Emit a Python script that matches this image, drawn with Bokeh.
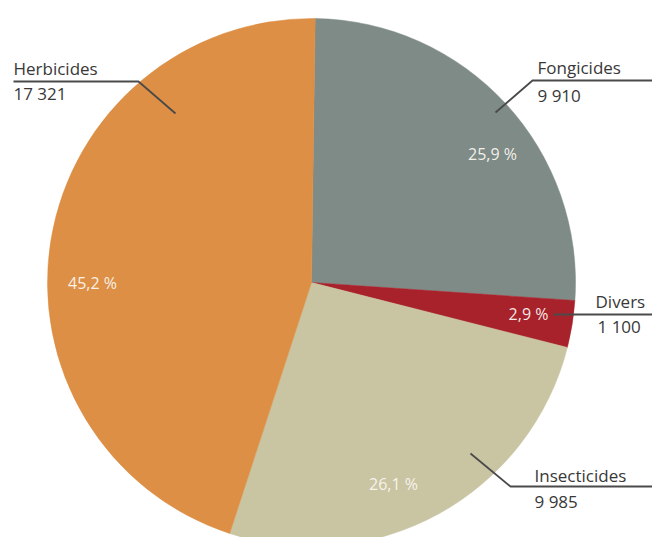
import math
from bokeh.plotting import figure
from bokeh.models import ColumnDataSource, Range1d
from bokeh.core.properties import value
from bokeh.embed import file_html
from bokeh.resources import INLINE

# ---- data ----
categories = ["Fongicides", "Divers", "Insecticides", "Herbicides"]
amounts = [9910, 1100, 9985, 17321]
amount_labels = ["9 910", "1 100", "9 985", "17 321"]
pct_labels = ["25,9 %", "2,9 %", "26,1 %", "45,2 %"]
colors = ["#7f8b86", "#a8222c", "#c9c4a2", "#dd8f45"]

# ---- layout (pixel-like coordinates, y downward -> negated) ----
CX, CY, R = 311, 282, 264
START_DEG = 0.8
FONT = "Open Sans"
TXT = "#383838"

total = sum(amounts)
starts, ends = [], []
acc = START_DEG
for a in amounts:
    th0 = acc
    th1 = acc + a / total * 360.0
    starts.append(math.radians(90 - th0))
    ends.append(math.radians(90 - th1))
    acc = th1

W, H = 652, 537
p = figure(width=W, height=H, output_backend="svg", toolbar_location=None,
           x_range=Range1d(0, W), y_range=Range1d(-H, 0),
           min_border=0)
p.axis.visible = False
p.grid.visible = False
p.outline_line_color = None
p.background_fill_color = "white"

src = ColumnDataSource(dict(start=starts, end=ends, color=colors))
p.wedge(x=CX, y=-CY, radius=R, start_angle="start", end_angle="end",
        direction="clock", fill_color="color", line_color="color",
        line_width=0.5, source=src)

# percentage labels (positions inside slices)
pct_pos = [(492, 153), (528, 313), (393, 483), (92, 282)]
p.text(x=[q[0] for q in pct_pos], y=[-q[1] for q in pct_pos], text=pct_labels,
       text_font=value(FONT), text_font_size="16px", text_color="#fbf7f2",
       text_alpha=0.95, text_align="center", text_baseline="middle")

# leader lines: (points) for each category
leaders = {
    "Fongicides": [(495, 112), (532, 80), (652, 80)],
    "Divers": [(553, 314), (652, 314)],
    "Insecticides": [(470, 453), (510, 486), (652, 486)],
    "Herbicides": [(175, 113), (138, 81), (13, 81)],
}
for name in categories:
    pts = leaders[name]
    p.line([q[0] for q in pts], [-q[1] for q in pts], line_color="#4a4a4a",
           line_width=1.8)

# category labels and amounts (vertical middle of text)
label_pos = {
    "Fongicides": (537, 67),
    "Divers": (595, 301),
    "Insecticides": (534, 475),
    "Herbicides": (13, 68),
}
amount_pos = {
    "Fongicides": (537, 95),
    "Divers": (597, 326),
    "Insecticides": (534, 501),
    "Herbicides": (13, 93),
}
p.text(x=[label_pos[c][0] for c in categories],
       y=[-label_pos[c][1] for c in categories], text=categories,
       text_font=value(FONT), text_font_size="17px", text_color=TXT,
       text_baseline="middle")
p.text(x=[amount_pos[c][0] for c in categories],
       y=[-amount_pos[c][1] for c in categories], text=amount_labels,
       text_font=value(FONT), text_font_size="17px", text_color=TXT,
       text_baseline="middle")

open("out.html", "w").write(file_html(p, INLINE))
